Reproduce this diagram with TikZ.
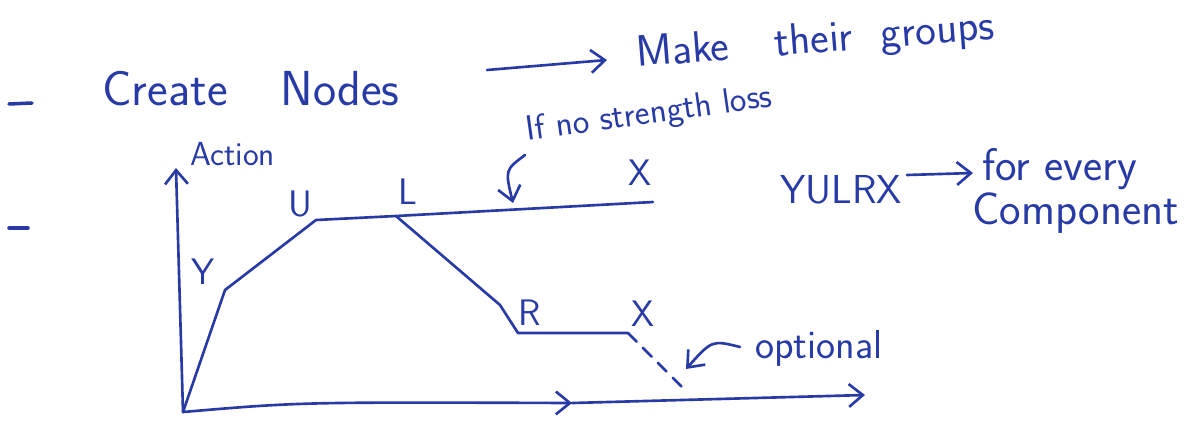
\documentclass[tikz,border=0pt]{standalone}
\usepackage{fontspec}
\usetikzlibrary{arrows.meta}
\definecolor{ink}{RGB}{40,58,165}
\tikzset{
    pen/.style={draw=ink, line width=1.5pt, line cap=round, line join=round},
    hand/.style={text=ink, inner sep=0pt, font=\sffamily\fontsize{#1}{#1}\selectfont},
    hand/.default=20,
}
\begin{document}
\begin{tikzpicture}[x=0.02cm, y=-0.02cm, >={Straight Barb[length=8pt,width=13pt]}]
    \useasboundingbox (0,0) rectangle (1185,423);

    % Bullets
    \draw[pen, line width=2pt] (9,104) -- (32,103);
    \draw[pen, line width=2pt] (9,228) -- (28,228);

    % First line
    \node[hand=28, anchor=base west] (create) at (102,105) {Create\hspace{30pt}Nodes};
    \node[hand=25, anchor=base west, rotate=4.5] (groups) at (637,67)
        {Make\hspace{26pt}their\hspace{16pt}groups};
    \coordinate (ca) at (487,70);
    \coordinate (cb) at (607,60);
    \draw[pen, ->] (ca) -- (cb);

    % Axes
    \coordinate (O) at (183,412);
    \coordinate (ytop) at (176,168);
    \coordinate (xmid) at (572,403);
    \coordinate (xend) at (865,395);
    \draw[pen, ->] (O) -- (ytop);
    \draw[pen, ->] (O) .. controls (300,402) .. (xmid);
    \draw[pen, ->] (xmid) -- (xend);
    \node[hand=19, anchor=base west] (action) at (190,165) {Action};

    % Curve points
    \coordinate (Yp) at (225,290);
    \coordinate (Up) at (316,220);
    \coordinate (Lp) at (396,216);
    \coordinate (Tp) at (653,202);
    \coordinate (Kp) at (500,305);
    \coordinate (Rp) at (518,333);
    \coordinate (Xp) at (628,333);
    \coordinate (Fp) at (687,392);

    \draw[pen] (O) -- (Yp) -- (Up) -- (Lp) -- (Tp);
    \draw[pen] (Lp) -- (Kp) -- (Rp) -- (Xp);
    \draw[pen, dashed, dash pattern=on 7pt off 5pt] (Xp) -- (Fp);

    % Point labels
    \node[hand=21] (ly) at (203,272) {Y};
    \node[hand=21] (lu) at (300,204) {U};
    \node[hand=21] (ll) at (408,192) {L};
    \node[hand=21] (lx1) at (640,173) {X};
    \node[hand=21] (lr) at (530,313) {R};
    \node[hand=21] (lx2) at (643,314) {X};

    % If no strength loss
    \node[hand=20, anchor=base west, rotate=8] (loss) at (527,141) {If no strength loss};
    \coordinate (la) at (525,155);
    \coordinate (lb) at (513,203);
    \draw[pen, ->] (la) .. controls (505,170) .. (lb);

    % YULRX
    \node[hand=23, anchor=base west] (yulrx) at (780,203) {YULRX};
    \coordinate (ya) at (907,175);
    \coordinate (yb) at (973,173);
    \draw[pen, ->] (ya) -- (yb);
    \node[hand=26, anchor=base west] (every) at (982,180) {for every};
    \node[hand=26, anchor=base west] (comp) at (972,224) {Component};

    % Optional
    \node[hand=23, anchor=base west] (opt) at (755,358) {optional};
    \coordinate (oa) at (740,347);
    \coordinate (ob) at (686,369);
    \draw[pen, ->] (oa) .. controls (712,340) .. (ob);
\end{tikzpicture}
\end{document}
